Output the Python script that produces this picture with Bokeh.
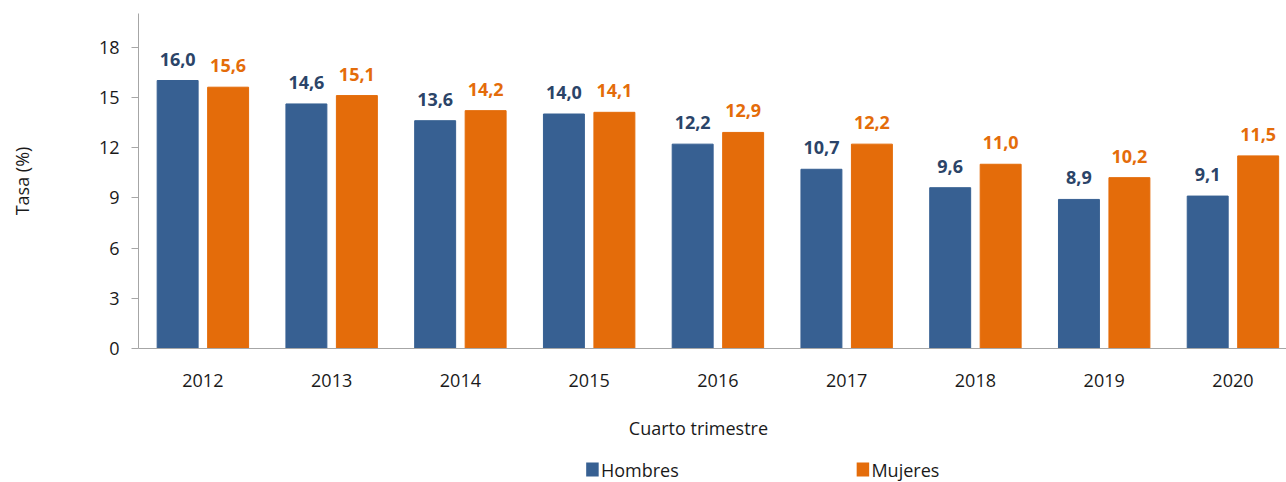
from bokeh.plotting import figure
from bokeh.layouts import column
from bokeh.models import ColumnDataSource, FixedTicker, Range1d, LabelSet
from bokeh.core.properties import value
from bokeh.embed import file_html
from bokeh.resources import INLINE

years = ["2012", "2013", "2014", "2015", "2016", "2017", "2018", "2019", "2020"]
hombres = [16.0, 14.6, 13.6, 14.0, 12.2, 10.7, 9.6, 8.9, 9.1]
mujeres = [15.6, 15.1, 14.2, 14.1, 12.9, 12.2, 11.0, 10.2, 11.5]
y_ticks = [0, 3, 6, 9, 12, 15, 18]
series_names = ["Hombres", "Mujeres"]

BLUE = "#376092"
BLUE_TXT = "#2B4468"
ORANGE = "#E46C0A"
FONT = "Open Sans"

pos = [i + 0.5 for i in range(len(years))]
fmt = lambda v: f"{v:.1f}".replace(".", ",")
src_h = ColumnDataSource(dict(x=[p - 0.196 for p in pos], y=hombres, lab=[fmt(v) for v in hombres]))
src_m = ColumnDataSource(dict(x=[p + 0.196 for p in pos], y=mujeres, lab=[fmt(v) for v in mujeres]))

p = figure(width=1286, height=452, output_backend="svg", toolbar_location=None,
           x_range=Range1d(0, 8.916), y_range=Range1d(0, 20),
           min_border_left=138, min_border_right=0, min_border_top=13, min_border_bottom=104)
p.outline_line_color = None
p.xgrid.grid_line_color = None
p.ygrid.grid_line_color = None
p.background_fill_color = "white"
p.border_fill_color = "white"

rh = p.vbar(x="x", top="y", width=0.318, source=src_h, color=BLUE)
rm = p.vbar(x="x", top="y", width=0.318, source=src_m, color=ORANGE)

for src, col in ((src_h, BLUE_TXT), (src_m, ORANGE)):
    p.add_layout(LabelSet(x="x", y="y", text="lab", source=src, y_offset=15,
                          text_align="center", text_baseline="bottom",
                          text_font=value(FONT), text_font_style="bold",
                          text_font_size="18px", text_color=col))

# y axis
p.yaxis.ticker = FixedTicker(ticks=y_ticks)
p.yaxis.axis_line_color = "#A6A6A6"
p.yaxis.major_tick_line_color = "#A6A6A6"
p.yaxis.major_tick_out = 7
p.yaxis.major_tick_in = 0
p.yaxis.minor_tick_line_color = None
p.yaxis.major_label_standoff = 12
p.yaxis.major_label_text_font = FONT
p.yaxis.major_label_text_font_size = "18px"
p.yaxis.major_label_text_color = "#1a1a1a"
p.yaxis.axis_label = "Tasa (%)"
p.yaxis.axis_label_text_font = FONT
p.yaxis.axis_label_text_font_size = "18px"
p.yaxis.axis_label_text_font_style = "normal"
p.yaxis.axis_label_text_color = "#1a1a1a"
p.yaxis.axis_label_standoff = 62

# x axis
p.xaxis.ticker = FixedTicker(ticks=pos)
p.xaxis.major_label_overrides = {p_: y for p_, y in zip(pos, years)}
p.xaxis.axis_line_color = "#A6A6A6"
p.xaxis.major_tick_line_color = None
p.xaxis.major_tick_out = 0
p.xaxis.major_tick_in = 0
p.xaxis.minor_tick_line_color = None
p.xaxis.major_label_standoff = 25
p.xaxis.major_label_text_font = FONT
p.xaxis.major_label_text_font_size = "18px"
p.xaxis.major_label_text_color = "#1a1a1a"
p.xaxis.axis_label = "Cuarto trimestre" + "\u00a0" * 6
p.xaxis.axis_label_text_font = FONT
p.xaxis.axis_label_text_font_size = "18px"
p.xaxis.axis_label_text_font_style = "normal"
p.xaxis.axis_label_text_color = "#1a1a1a"
p.xaxis.axis_label_standoff = 26

# legend strip as a separate small figure (pixel-like data space)
leg = figure(width=1286, height=30, output_backend="svg", toolbar_location=None,
             x_range=Range1d(0, 1286), y_range=Range1d(0, 30),
             min_border=0, min_border_left=0, min_border_right=0,
             min_border_top=0, min_border_bottom=0)
leg.axis.visible = False
leg.xgrid.grid_line_color = None
leg.ygrid.grid_line_color = None
leg.outline_line_color = None
leg.border_fill_color = "white"
leg_src = ColumnDataSource(dict(sx=[508.5, 811.5], tx=[518, 821], y=[13, 13],
                                name=series_names, col=[BLUE, ORANGE]))
leg.rect(x="sx", y="y", width=14, height=14, source=leg_src, fill_color="col", line_color=None)
leg.text(x="tx", y="y", text="name", source=leg_src, text_font=value(FONT),
         text_font_size="18px", text_color="#1a1a1a",
         text_align="left", text_baseline="middle")

layout = column(p, leg, spacing=0)
open("out.html", "w").write(file_html(layout, INLINE))
